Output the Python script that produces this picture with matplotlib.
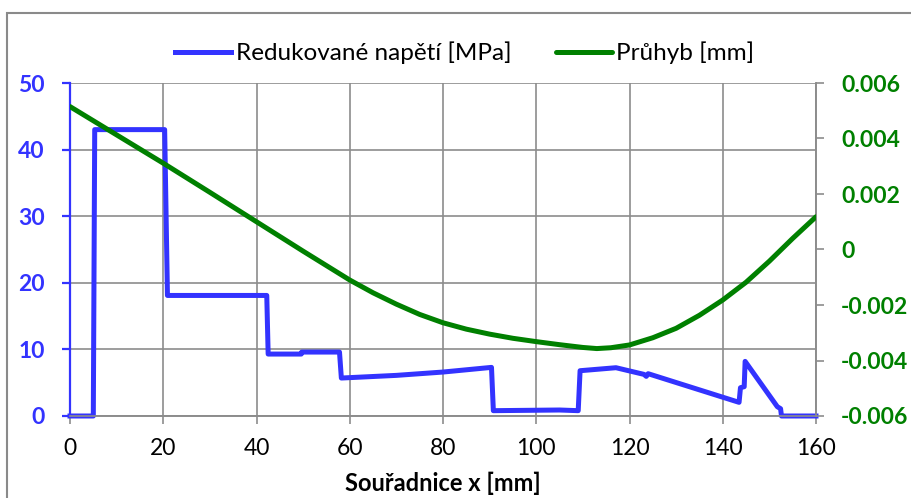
import matplotlib.pyplot as plt
from matplotlib.patches import Rectangle

plt.rcParams['font.family'] = ['Lato', 'DejaVu Sans']

# Redukované napětí po délce hřídele
x_napeti = [0, 5.0, 5.3, 20.3, 20.9, 42.2, 42.5, 49.6, 49.7, 57.8, 58.2,
            70, 80, 90.4, 90.8, 105, 109.0, 109.4, 117.1, 123.1, 123.6,
            124.0, 143.5, 143.8, 144.6, 144.8, 151.7, 152.4, 152.6, 160]
napeti = [0, 0, 43.0, 43.0, 18.1, 18.1, 9.3, 9.3, 9.6, 9.6, 5.7,
          6.1, 6.6, 7.3, 0.8, 0.9, 0.8, 6.8, 7.25, 6.25, 5.95,
          6.35, 2.05, 4.25, 4.4, 8.2, 1.4, 1.1, 0, 0]

# Průhyb
x_pruhyb = [0, 10, 20, 30, 40, 50, 55, 60, 65, 70, 75, 80, 85, 90, 95,
            100, 105, 110, 113, 116, 120, 125, 130, 135, 140, 145, 150,
            155, 160]
pruhyb = [0.00515, 0.00413, 0.00311, 0.00206, 0.00100, -0.00006, -0.00058,
          -0.00110, -0.00156, -0.00197, -0.00234, -0.00264, -0.00287,
          -0.00305, -0.00320, -0.00332, -0.00343, -0.00353, -0.00357,
          -0.00354, -0.00344, -0.00318, -0.00284, -0.00237, -0.00182,
          -0.00118, -0.00042, 0.00040, 0.00118]

x_ticks = [0, 20, 40, 60, 80, 100, 120, 140, 160]
y1_ticks = [0, 10, 20, 30, 40, 50]
y2_ticks = [-0.006, -0.004, -0.002, 0, 0.002, 0.004, 0.006]
y2_labels = ['-0.006', '-0.004', '-0.002', '0', '0.002', '0.004', '0.006']

modra = '#3333ff'
zelena = '#008000'
seda = '#8c8c8c'

fig = plt.figure(figsize=(9.12, 4.98), dpi=100)
ax = fig.add_axes([70 / 912, 1 - 416 / 498, 746 / 912, 333 / 498])
ax2 = ax.twinx()

ax.set_xlim(0, 160)
ax.set_ylim(0, 50)
ax2.set_ylim(-0.006, 0.006)

ax.set_xticks(x_ticks)
ax.set_yticks(y1_ticks)
ax2.set_yticks(y2_ticks)
ax2.set_yticklabels(y2_labels)

ax.grid(True, color=seda, linewidth=1.2)
ax.set_axisbelow(True)

l1, = ax.plot(x_napeti, napeti, color=modra, linewidth=3.6,
              solid_joinstyle='round', zorder=3, clip_on=False)
l2, = ax2.plot(x_pruhyb, pruhyb, color=zelena, linewidth=3.6,
               solid_capstyle='round', solid_joinstyle='round', zorder=3)

for a in (ax, ax2):
    for s in a.spines.values():
        s.set_color(seda)
        s.set_linewidth(1.2)
    a.spines['top'].set_visible(False)
ax.spines['left'].set_color(modra)
ax.spines['left'].set_linewidth(1.6)
ax2.spines['left'].set_visible(False)

ax.tick_params(axis='y', colors=modra, labelsize=16.5, length=6, width=1.6, pad=12)
ax.tick_params(axis='x', colors=seda, labelcolor='black', labelsize=16.5,
               length=6, width=1.2, pad=10)
ax2.tick_params(axis='y', colors=seda, labelcolor=zelena, labelsize=16.5,
                length=6, width=1.2, pad=12)
for t in ax.get_yticklabels() + ax2.get_yticklabels():
    t.set_fontweight('bold')

ax.set_xlabel('Souřadnice x [mm]', fontsize=17, fontweight='bold', labelpad=9)

fig.legend([l1, l2], ['Redukované napětí [MPa]', 'Průhyb [mm]'],
           loc='center', bbox_to_anchor=(465 / 912, 1 - 53 / 498),
           ncol=2, frameon=False, fontsize=17.5, handlelength=2.3,
           handletextpad=0.2, columnspacing=1.8)

# rámeček grafu
fig.patches.append(Rectangle((7 / 912, -0.1), 2, 1 - 13 / 498 + 0.1,
                             transform=fig.transFigure, fill=False,
                             edgecolor='#8a8a8a', linewidth=1.5))

fig.savefig('out.png', dpi=100)
